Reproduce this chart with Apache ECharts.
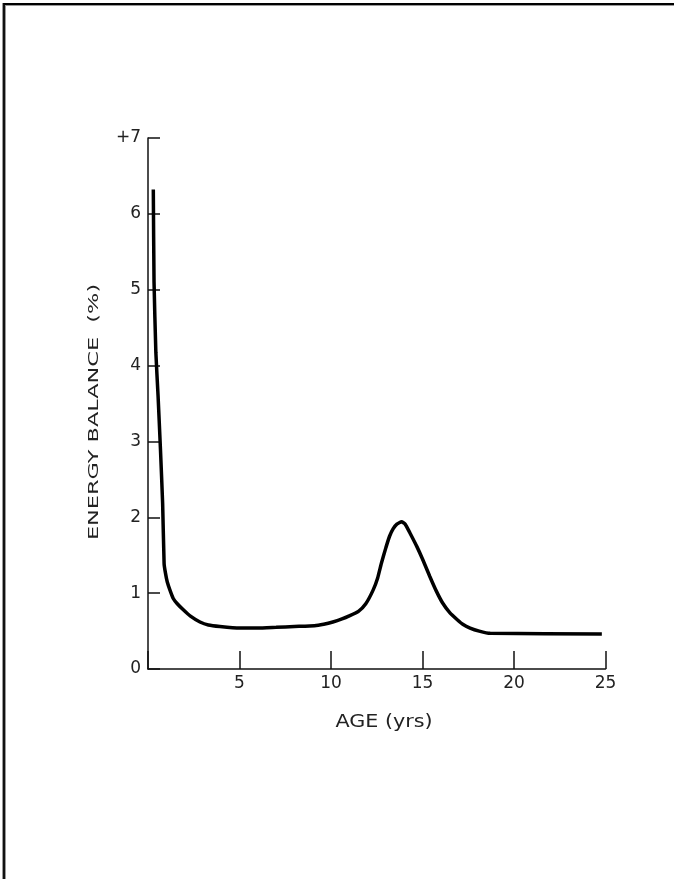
<!DOCTYPE html>
<html>
<head>
<meta charset="utf-8">
<script src="https://cdn.jsdelivr.net/npm/echarts@6/dist/echarts.min.js"></script>
<style>
  html, body { margin: 0; padding: 0; background: #fff; }
  .frame {
    position: absolute; left: 3px; top: 3px; width: 680px; height: 880px;
    border-top: 2px solid #000; border-left: 2px solid #111;
    box-shadow: inset 1px 1px 0 #999, -1px 0 0 #999;
  }
  #chart { position: absolute; left: 0; top: 0; width: 674px; height: 879px; }
</style>
</head>
<body>
<div class="frame"></div>
<div id="chart"></div>
<script>
// age in years, energy balance in %
const ages = [0.29, 0.33, 0.43, 0.55, 0.68, 0.8, 0.88, 0.95, 1.05, 1.2, 1.38, 1.6,
  1.93, 2.3, 2.84, 3.3, 3.93, 5.0, 6.0, 7.0, 8.0, 9.1, 9.6, 10.1, 10.6, 11.0,
  11.5, 11.9, 12.3, 12.55, 12.75, 13.0, 13.2, 13.4, 13.6, 13.86, 14.05, 14.3,
  14.7, 15.0, 15.4, 15.75, 16.1, 16.5, 16.9, 17.2, 17.6, 18.1, 18.7, 24.8];
const balance = [6.32, 5.1, 4.17, 3.6, 2.9, 2.18, 1.39, 1.27, 1.15, 1.04, 0.93, 0.86,
  0.78, 0.7, 0.62, 0.58, 0.56, 0.54, 0.54, 0.55, 0.56, 0.57, 0.59, 0.62, 0.66, 0.7,
  0.76, 0.86, 1.04, 1.2, 1.39, 1.6, 1.75, 1.85, 1.91, 1.94, 1.91, 1.8,
  1.61, 1.45, 1.22, 1.03, 0.87, 0.74, 0.65, 0.59, 0.54, 0.5, 0.47, 0.46];

const yName = 'ENERGY BALANCE  (%)';
const xName = 'AGE (yrs)';

const chart = echarts.init(document.getElementById('chart'), null, { renderer: 'canvas' });
const labelFont = { fontFamily: 'DejaVu Sans', fontSize: 17, color: '#222' };

chart.setOption({
  animation: false,
  grid: { left: 148, right: 68.5, top: 138, bottom: 210 },
  xAxis: {
    type: 'value', min: 0, max: 25, interval: 5,
    axisLine: { lineStyle: { color: '#111', width: 1.5 } },
    axisTick: { inside: true, length: 18, lineStyle: { color: '#111', width: 1.5 } },
    axisLabel: Object.assign({ margin: 6, formatter: v => (v === 0 ? '' : v) }, labelFont),
    splitLine: { show: false }
  },
  yAxis: {
    type: 'value', min: 0, max: 7, interval: 1,
    axisLine: { show: true, lineStyle: { color: '#111', width: 1.5 } },
    axisTick: { show: true, inside: true, length: 12, lineStyle: { color: '#111', width: 1.5 } },
    axisLabel: Object.assign({ margin: 7, formatter: v => (v === 7 ? '+7' : v) }, labelFont),
    splitLine: { show: false }
  },
  graphic: [
    {
      type: 'text', x: 94, y: 412, rotation: Math.PI / 2, scaleX: 1.6,
      style: { text: yName, font: '14px "DejaVu Sans"', fill: '#222',
        align: 'center', verticalAlign: 'middle', textAlign: 'center', textVerticalAlign: 'middle' }
    },
    {
      type: 'text', x: 384, y: 722, scaleX: 1.15,
      style: { text: xName, font: '18px "DejaVu Sans"', fill: '#222',
        align: 'center', verticalAlign: 'middle', textAlign: 'center', textVerticalAlign: 'middle' }
    }
  ],
  series: [{
    type: 'line',
    data: ages.map((a, i) => [a, balance[i]]),
    showSymbol: false,
    smooth: 0.15,
    lineStyle: { color: '#000', width: 3.5 }
  }]
});
</script>
</body>
</html>
